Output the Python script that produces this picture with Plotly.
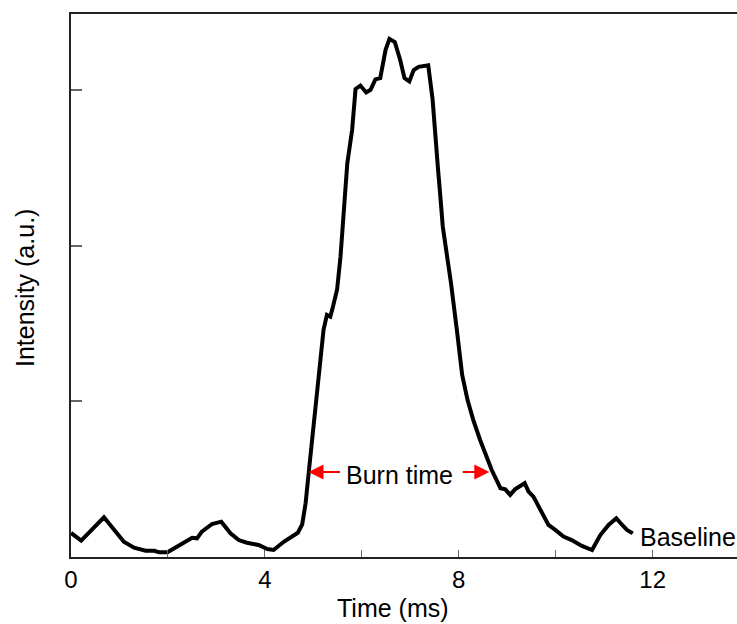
import plotly.graph_objects as go

# Time (ms)
time_ms = [0.0, 0.21, 0.68, 1.09, 1.30, 1.54, 1.72, 1.82, 1.99, 2.13, 2.33, 2.50, 2.60, 2.70,
           2.91, 3.10, 3.29, 3.46, 3.63, 3.87, 4.05, 4.18, 4.39, 4.68, 4.77, 4.84, 4.91, 5.01,
           5.10, 5.21, 5.28, 5.35, 5.39, 5.49, 5.56, 5.59, 5.66, 5.70, 5.80, 5.87, 5.97, 6.09,
           6.18, 6.28, 6.38, 6.49, 6.57, 6.68, 6.79, 6.88, 6.98, 7.07, 7.17, 7.37, 7.46, 7.53,
           7.57, 7.62, 7.67, 7.76, 7.84, 7.96, 8.07, 8.18, 8.30, 8.44, 8.55, 8.68, 8.86, 8.96,
           9.06, 9.16, 9.36, 9.44, 9.54, 9.68, 9.85, 9.99, 10.16, 10.33, 10.54, 10.75, 10.92,
           11.09, 11.25, 11.33, 11.47, 11.59]
# Intensity (a.u.)
intensity = [0.155, 0.105, 0.255, 0.098, 0.060, 0.040, 0.040, 0.030, 0.030, 0.056, 0.098, 0.124,
             0.120, 0.163, 0.212, 0.227, 0.152, 0.109, 0.092, 0.077, 0.051, 0.045, 0.098, 0.156,
             0.210, 0.345, 0.560, 0.880, 1.170, 1.460, 1.556, 1.545, 1.590, 1.720, 1.930, 2.080,
             2.400, 2.530, 2.746, 3.008, 3.030, 2.986, 3.003, 3.070, 3.078, 3.260, 3.330, 3.310,
             3.196, 3.078, 3.057, 3.130, 3.150, 3.160, 2.940, 2.700, 2.500, 2.317, 2.124, 1.930,
             1.760, 1.460, 1.170, 1.010, 0.880, 0.752, 0.667, 0.559, 0.442, 0.435, 0.399, 0.435,
             0.474, 0.420, 0.388, 0.302, 0.206, 0.174, 0.131, 0.109, 0.071, 0.045, 0.141, 0.206,
             0.249, 0.220, 0.174, 0.152]

x_tick_vals = [0, 2, 4, 6, 8, 10, 12]
x_tick_text = ["0", "", "4", "", "8", "", "12"]
y_tick_vals = [1, 2, 3]

burn_start, burn_end, burn_level = 4.90, 8.63, 0.547
label_left_end, label_right_start = 5.58, 8.05

FONT = "Liberation Sans, Arial, sans-serif"

fig = go.Figure()
fig.add_trace(go.Scatter(x=time_ms, y=intensity, mode="lines",
                         line=dict(color="black", width=4), showlegend=False,
                         hoverinfo="skip"))

fig.update_layout(
    width=737, height=624,
    margin=dict(l=71, r=0, t=14, b=67),
    paper_bgcolor="white", plot_bgcolor="white",
    font=dict(family=FONT, size=24, color="black"),
    xaxis=dict(range=[0, 13.74], tickvals=x_tick_vals, ticktext=x_tick_text,
               ticks="inside", ticklen=7, tickwidth=1, tickcolor="#666",
               showline=True, linecolor="#222", linewidth=1.5, mirror=True,
               showgrid=False, zeroline=False, tickfont=dict(size=24)),
    yaxis=dict(range=[0, 3.49], tickvals=y_tick_vals, showticklabels=False,
               ticks="inside", ticklen=11, tickwidth=1.5, tickcolor="#666",
               showline=True, linecolor="#222", linewidth=1.5, mirror=False,
               showgrid=False, zeroline=False),
)

# Axis titles
fig.add_annotation(text="Time (ms)", xref="paper", yref="paper", x=(393 - 71) / 666,
                   y=-(608 - 557) / 543, showarrow=False, xanchor="center", yanchor="middle",
                   font=dict(size=25))
fig.add_annotation(text="Intensity (a.u.)", xref="paper", yref="paper", x=-(71 - 25) / 666,
                   y=(557 - 288) / 543, showarrow=False, textangle=-90,
                   xanchor="center", yanchor="middle", font=dict(size=25))

# Burn time arrows and label
fig.add_annotation(x=burn_start, y=burn_level, ax=label_left_end, ay=burn_level,
                   xref="x", yref="y", axref="x", ayref="y", text="", showarrow=True,
                   arrowhead=2, arrowsize=1.5, arrowwidth=2, arrowcolor="red")
fig.add_annotation(x=burn_end, y=burn_level, ax=label_right_start, ay=burn_level,
                   xref="x", yref="y", axref="x", ayref="y", text="", showarrow=True,
                   arrowhead=2, arrowsize=1.5, arrowwidth=2, arrowcolor="red")
fig.add_annotation(x=(burn_start + burn_end) / 2 + 0.02, y=burn_level - 0.02, text="Burn time",
                   showarrow=False, xanchor="center", yanchor="middle", font=dict(size=25))
fig.add_annotation(x=11.70, y=0.13, text="Baseline", showarrow=False,
                   xanchor="left", yanchor="middle", font=dict(size=25))

fig.write_html("out.html")
